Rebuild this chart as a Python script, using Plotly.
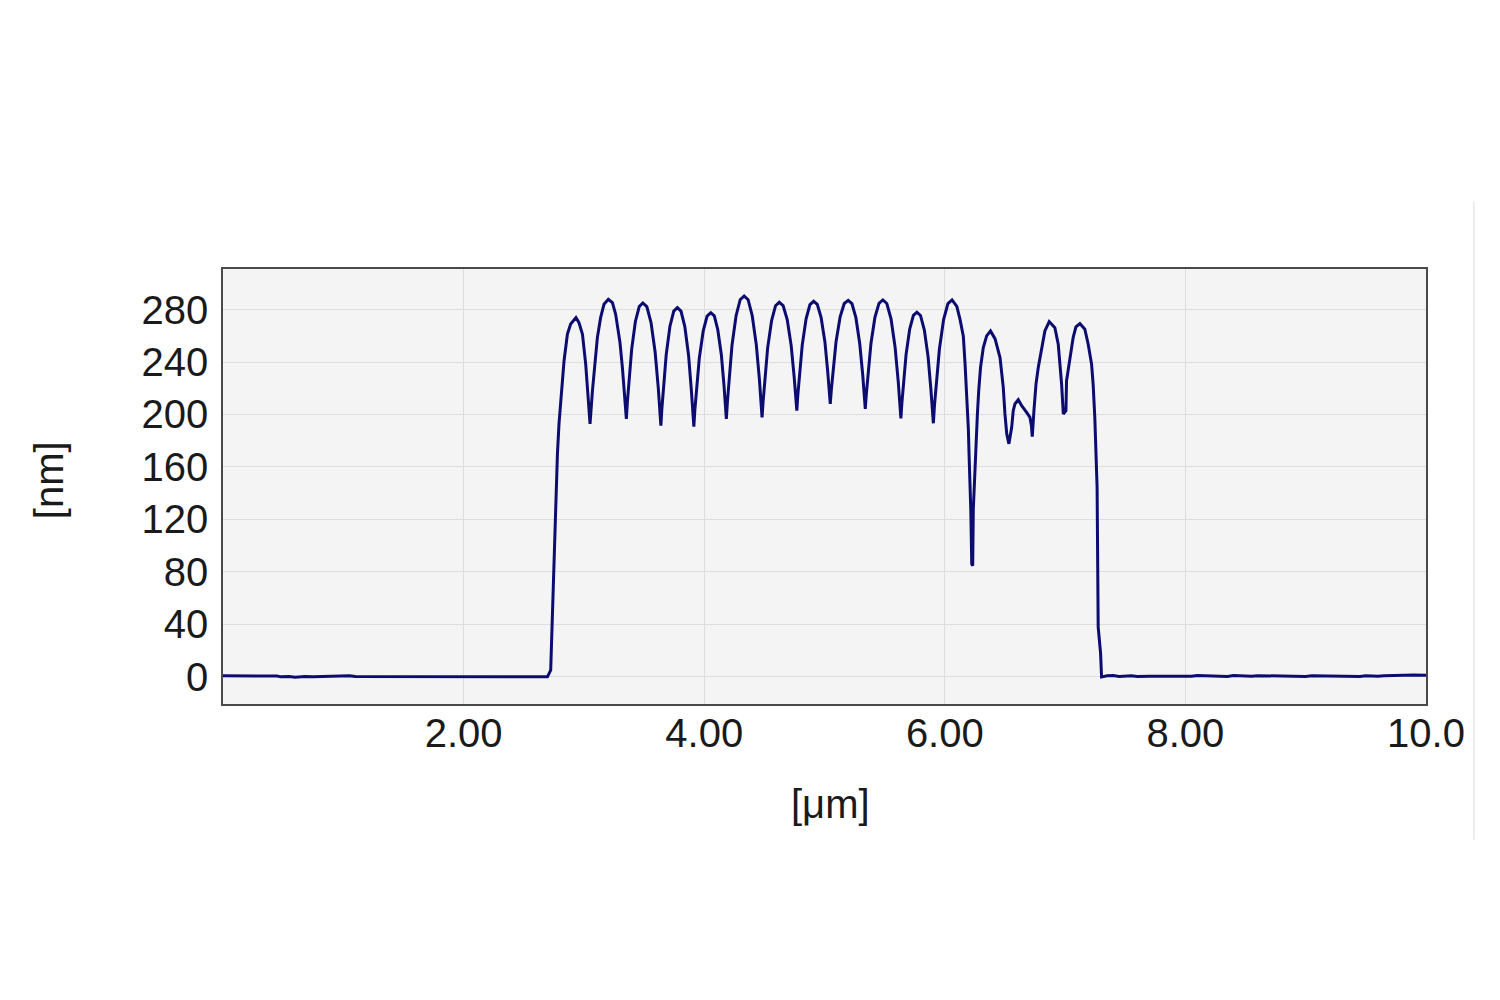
import plotly.graph_objects as go

# ---- profile data (x in µm, height in nm) ----
base_left_x = [0.0, 0.30, 0.45, 0.48, 0.55, 0.60, 0.68, 0.75, 1.00, 1.05, 1.10, 1.50, 1.55, 1.62, 2.00, 2.30, 2.50, 2.697]
base_left_y = [0.8, 0.8, 0.6, 0.0, 0.3, -0.3, 0.2, 0.0, 0.4, 0.9, 0.3, 0.2, -0.2, 0.1, 0.0, 0.1, 0.0, 0.0]

rise_x = [2.724, 2.730, 2.739, 2.752, 2.766, 2.780, 2.793, 2.807, 2.822, 2.835, 2.863, 2.890, 2.934,
          2.959, 2.988, 3.001, 3.015, 3.029, 3.042, 3.051]
rise_y = [5.1, 22.9, 48.3, 99.0, 144.6, 170.0, 192.8, 208.0, 225.8, 241.0, 261.3, 268.9, 273.9,
          270.0, 261.2, 251.0, 238.4, 220.6, 205.4, 192.8]

arches_x = [
    3.071, 3.084, 3.098, 3.112, 3.139, 3.167, 3.203, 3.237, 3.264, 3.283, 3.300, 3.320, 3.333, 3.347, 3.353,
    3.361, 3.374, 3.397, 3.428, 3.460, 3.490, 3.523, 3.558, 3.592, 3.618, 3.631, 3.640,
    3.648, 3.661, 3.684, 3.715, 3.747, 3.777, 3.807, 3.839, 3.870, 3.893, 3.906, 3.914,
    3.922, 3.935, 3.959, 3.992, 4.024, 4.055, 4.084, 4.113, 4.143, 4.165, 4.176, 4.184,
    4.193, 4.206, 4.231, 4.265, 4.299, 4.332, 4.365, 4.399, 4.433, 4.459, 4.472, 4.481,
    4.490, 4.502, 4.527, 4.560, 4.593, 4.624, 4.656, 4.690, 4.723, 4.748, 4.761, 4.770,
    4.778, 4.791, 4.815, 4.847, 4.879, 4.910, 4.940, 4.972, 5.004, 5.027, 5.040, 5.048,
    5.057, 5.070, 5.096, 5.130, 5.164, 5.197, 5.228, 5.261, 5.293, 5.318, 5.330, 5.339,
    5.348, 5.361, 5.386, 5.419, 5.453, 5.485, 5.518, 5.553, 5.587, 5.613, 5.626, 5.635,
    5.643, 5.655, 5.678, 5.708, 5.739, 5.768, 5.798, 5.830, 5.861, 5.884, 5.897, 5.905,
    5.914, 5.928, 5.955, 5.990, 6.026, 6.060,
]
arches_y = [
    218.1, 230.8, 248.7, 258.6, 273.8, 284.0, 287.8, 285.2, 276.4, 266.2, 254.8, 235.8, 220.6, 205.4, 196.6,
    209.0, 224.0, 249.6, 270.9, 282.3, 285.0, 282.2, 270.0, 247.6, 220.5, 204.6, 191.5,
    204.1, 219.4, 245.5, 267.1, 278.8, 281.5, 278.8, 267.0, 245.2, 218.8, 203.4, 190.7,
    202.9, 217.6, 242.8, 263.7, 275.0, 277.6, 275.2, 264.6, 245.2, 221.7, 207.9, 196.6,
    209.7, 225.6, 252.8, 275.3, 287.5, 290.3, 287.5, 275.5, 253.3, 226.5, 210.8, 197.8,
    210.1, 225.0, 250.4, 271.5, 282.9, 285.5, 283.0, 272.3, 252.5, 228.5, 214.5, 202.9,
    214.6, 228.8, 252.9, 272.9, 283.8, 286.3, 284.0, 273.8, 255.0, 232.3, 219.0, 208.0,
    219.1, 232.5, 255.4, 274.4, 284.6, 287.0, 284.5, 273.8, 253.9, 229.9, 215.8, 204.2,
    215.8, 230.0, 254.1, 274.0, 284.8, 287.3, 284.6, 272.9, 251.2, 225.0, 209.6, 197.0,
    208.3, 222.1, 245.6, 265.0, 275.6, 278.0, 275.5, 264.4, 244.1, 219.6, 205.2, 193.3,
    206.5, 222.4, 249.7, 272.3, 284.5, 287.3,
]

tail_x = [6.100, 6.127, 6.154, 6.168, 6.183, 6.196, 6.202, 6.210, 6.216, 6.224, 6.232, 6.237, 6.246, 6.260,
          6.271, 6.282, 6.297, 6.320, 6.348, 6.380, 6.418, 6.459, 6.486, 6.500, 6.515, 6.533,
          6.556, 6.569, 6.583, 6.611, 6.639, 6.680, 6.708, 6.720, 6.727,
          6.741, 6.758, 6.777, 6.805, 6.832, 6.868, 6.915, 6.943, 6.957, 6.971, 6.985, 7.007,
          7.012, 7.040, 7.067, 7.090, 7.123, 7.164, 7.192, 7.220, 7.233, 7.247, 7.258, 7.266,
          7.275, 7.295, 7.303]
tail_y = [282.4, 272.3, 259.6, 239.3, 213.8, 188.6, 168.3, 150.6, 127.8, 86.0, 84.7, 127.8, 150.6, 172.6,
          200.4, 218.1, 235.8, 251.0, 259.9, 263.7, 257.6, 243.4, 220.6, 200.4, 185.2, 177.6,
          190.2, 202.9, 208.0, 211.3, 206.7, 201.6, 197.8, 191.5, 183.1,
          202.9, 223.2, 235.8, 251.0, 263.7, 270.8, 266.2, 253.6, 240.9, 223.2, 200.4, 202.9,
          225.7, 243.4, 258.6, 266.8, 269.3, 265.0, 253.6, 238.4, 223.2, 197.8, 170.0, 144.6,
          38.1, 17.9, 0.0]

base_right_x = [7.35, 7.40, 7.45, 7.55, 7.60, 7.70, 8.05, 8.10, 8.35, 8.40, 8.55, 8.60, 9.00, 9.05,
                9.45, 9.50, 9.60, 9.65, 9.75, 9.80, 9.90, 10.0]
base_right_y = [0.8, 1.0, 0.3, 0.9, 0.2, 0.5, 0.4, 1.0, 0.3, 1.0, 0.4, 0.9, 0.3, 0.9,
                0.2, 0.8, 0.4, 0.9, 1.2, 1.0, 1.4, 1.2]

x_vals = base_left_x + rise_x + arches_x + tail_x + base_right_x
y_vals = base_left_y + rise_y + arches_y + tail_y + base_right_y

x_tickvals = [2, 4, 6, 8, 10]
x_ticktext = ["2.00", "4.00", "6.00", "8.00", "10.0"]
y_tickvals = [0, 40, 80, 120, 160, 200, 240, 280]

FONT = "Liberation Sans, Arial, sans-serif"

fig = go.Figure()
fig.add_trace(go.Scatter(
    x=x_vals, y=y_vals, mode="lines",
    line=dict(color="#0c0c70", width=3),
    showlegend=False, hoverinfo="skip",
))

fig.update_layout(
    width=1500, height=1000,
    margin=dict(l=215, r=82, t=261, b=304, autoexpand=False),
    paper_bgcolor="white", plot_bgcolor="#f4f4f4",
    font=dict(family=FONT, size=40, color="#1a1a1a"),
    showlegend=False,
    annotations=[
        dict(text="[nm]", xref="paper", yref="paper", x=-0.1440, y=0.514,
             xanchor="center", yanchor="middle", textangle=-90, showarrow=False,
             font=dict(family=FONT, size=40, color="#1a1a1a")),
        dict(text="[μm]", xref="paper", yref="paper", x=0.5046, y=-0.229,
             xanchor="center", yanchor="middle", showarrow=False,
             font=dict(family=FONT, size=40, color="#1a1a1a")),
    ],
    shapes=[
        dict(type="line", xref="paper", yref="paper", x0=1.0398, x1=1.0398, y0=1.156, y1=-0.312,
             line=dict(color="#ececec", width=2)),
    ],
)

fig.update_xaxes(
    range=[0, 10], tickvals=x_tickvals, ticktext=x_ticktext,
    showgrid=True, gridcolor="#dddddd", gridwidth=1,
    showline=True, mirror=True, linecolor="#4a4a4a", linewidth=1.5,
    ticks="", ticklen=0, zeroline=False, ticklabelstandoff=-7,
    tickfont=dict(family=FONT, size=40, color="#1a1a1a"),
)
fig.update_yaxes(
    range=[-20.7, 310.9], tickvals=y_tickvals,
    showgrid=True, gridcolor="#dddddd", gridwidth=1,
    showline=True, mirror=True, linecolor="#4a4a4a", linewidth=1.5,
    ticks="", ticklen=0, zeroline=False, ticklabelstandoff=5,
    tickfont=dict(family=FONT, size=40, color="#1a1a1a"),
)

fig.write_html("out.html")
